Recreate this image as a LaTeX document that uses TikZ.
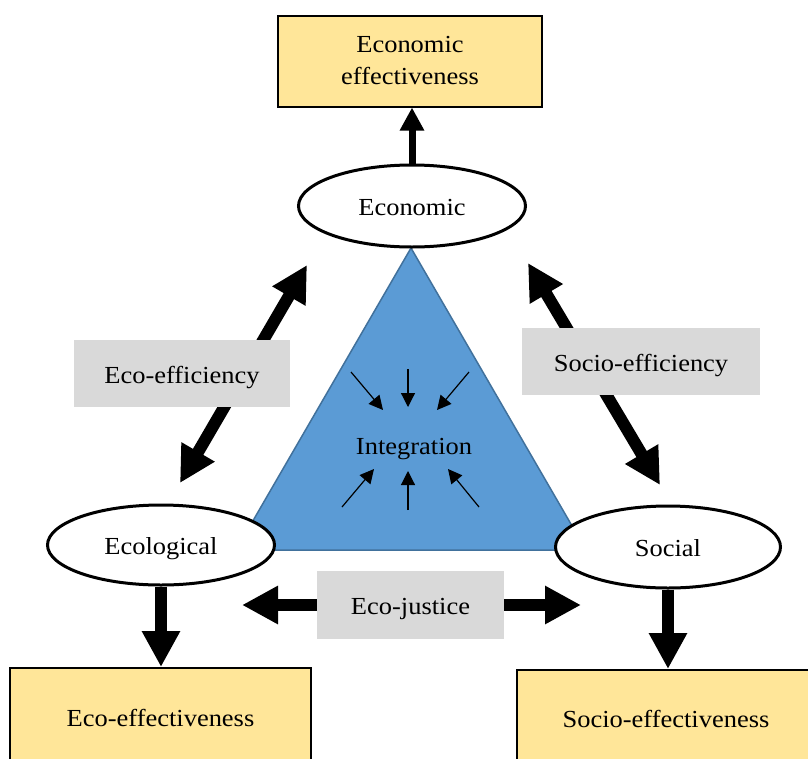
\documentclass[tikz,border=0pt]{standalone}
\usepackage{fontspec}
\setmainfont{Liberation Serif}[FakeStretch=1.08]
\usetikzlibrary{arrows.meta,shapes.geometric}
\definecolor{boxyellow}{HTML}{FFE699}
\definecolor{labelgray}{HTML}{D9D9D9}
\definecolor{triblue}{HTML}{5B9BD5}
\definecolor{triedge}{HTML}{41719C}
\begin{document}
\begin{tikzpicture}[x=1pt,y=-1pt,
  every node/.style={font=\fontsize{24.5}{32}\selectfont, inner sep=0pt},
  oneline/.style={text height=19pt, text depth=0pt},
  outcome/.style={draw=black, line width=2pt, fill=boxyellow, align=center},
  pillar/.style={ellipse, draw=black, line width=3pt, fill=white, oneline},
  relation/.style={fill=labelgray, oneline},
  bigarrow/.style={line width=12pt, -{Triangle[length=36pt,width=36pt]}},
  bigdouble/.style={line width=12pt, {Triangle[length=36pt,width=36pt]}-{Triangle[length=36pt,width=36pt]}},
  toparrow/.style={line width=7pt, -{Triangle[length=23pt,width=23pt]}},
  smallarrow/.style={line width=1.2pt, -{Triangle[length=14pt,width=14pt]}},
]
\useasboundingbox (0,0) rectangle (808,758);

% central triangle
\coordinate (apex) at (411,248);
\coordinate (baseL) at (236,550);
\coordinate (baseR) at (586,550);
\filldraw[fill=triblue, draw=triedge, line width=1.5pt] (apex) -- (baseL) -- (baseR) -- cycle;
\node[oneline] (integ) at (414,445) {Integration};

% converging arrows around "Integration"
\foreach \sx/\sy/\ex/\ey in {351/372/383/410, 408/369/408/407, 469/372/437/410,
                             342/507/374/469, 408/510/408/471, 479/507/448/469}
  \draw[smallarrow] (\sx,\sy) -- (\ex,\ey);

% pillars
\node[pillar, minimum width=227pt, minimum height=82pt] (econ) at (412,206) {Economic};
\node[pillar, minimum width=227pt, minimum height=80pt] (ecol) at (161,545) {Ecological};
\node[pillar, minimum width=225pt, minimum height=82pt] (soc) at (668,547) {Social};

% outcomes
\node[outcome, minimum width=264pt, minimum height=91pt] (econeff) at (410,61) {Economic\\effectiveness};
\node[outcome, oneline, minimum width=301pt, minimum height=98pt] (ecoeff) at (160.5,717) {Eco-effectiveness};
\node[outcome, oneline, minimum width=298pt, minimum height=96pt] (soceff) at (666,718) {Socio-effectiveness};

% arrows from pillars to outcomes
\draw[toparrow] (econ.north) -- (econ.north |- econeff.south);
\draw[bigarrow] (ecol.south) -- (ecol.south |- ecoeff.north);
\draw[bigarrow] (soc.south) -- (soc.south |- soceff.north);

% relations between pillars
\coordinate (effA) at (180,483);
\coordinate (effB) at (307,265);
\coordinate (seffA) at (528,263);
\coordinate (seffB) at (660,485);
\draw[bigdouble] (effA) -- (effB);
\draw[bigdouble] (seffA) -- (seffB);

\node[relation, minimum width=216pt, minimum height=67pt] (ecoefficiency) at (182,373.5) {Eco-efficiency};
\node[relation, minimum width=238pt, minimum height=67pt] (socefficiency) at (641,361.5) {Socio-efficiency};
\node[relation, minimum width=187pt, minimum height=68pt] (justice) at (410.5,605) {Eco-justice};

\coordinate (justL) at (242,605);
\coordinate (justR) at (581,605);
\draw[bigarrow] (justice.west) -- (justL);
\draw[bigarrow] (justice.east) -- (justR);
\end{tikzpicture}
\end{document}
